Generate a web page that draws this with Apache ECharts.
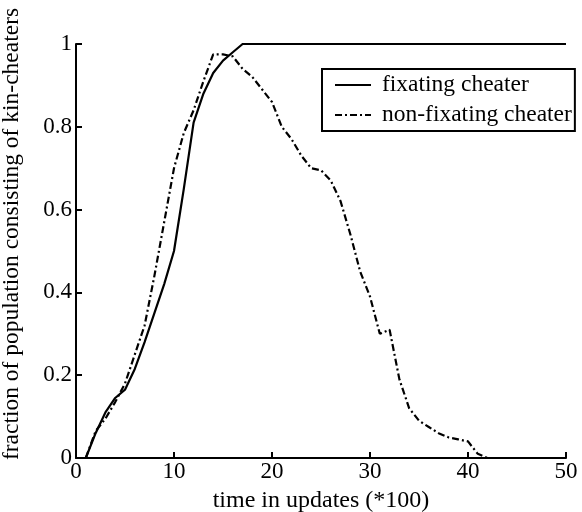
<!DOCTYPE html>
<html>
<head>
<meta charset="utf-8">
<script src="https://cdn.jsdelivr.net/npm/echarts@6/dist/echarts.min.js"></script>
<style>html,body{margin:0;padding:0;background:#fff}#c{width:582px;height:512px}</style>
</head>
<body>
<div id="c"></div>
<script>
const times = [1,2,3,4,5,6,7,8,9,10,11,12,13,14,15,16,17,18,19,20,21,22,23,24,25,26,27,28,29,30,31,32,33,34,35,36,37,38,39,40,41,42,43,44,45,46,47,48,49,50];
const fixating = [0,0.06,0.11,0.145,0.165,0.215,0.28,0.35,0.42,0.50,0.65,0.81,0.88,0.93,0.96,0.98,1,1,1,1,1,1,1,1,1,1,1,1,1,1,1,1,1,1,1,1,1,1,1,1,1,1,1,1,1,1,1,1,1,1];
const nonFixating = [0,0.065,0.095,0.135,0.18,0.25,0.32,0.44,0.57,0.70,0.785,0.84,0.91,0.975,0.975,0.97,0.94,0.92,0.89,0.86,0.80,0.77,0.73,0.70,0.695,0.67,0.62,0.54,0.45,0.39,0.30,0.31,0.19,0.12,0.09,0.075,0.06,0.05,0.045,0.04,0.01,0,0,0,0,0,0,0,0,0];
const seriesNames = ['fixating cheater','non-fixating cheater'];
const xTitle = 'time in updates (*100)';
const yTitle = 'fraction of population consisting of kin-cheaters';

const F = 'Liberation Serif, Times New Roman, serif';
const chart = echarts.init(document.getElementById('c'));
chart.setOption({
  animation: false,
  grid: {left: 76, right: 16, top: 44, bottom: 54, containLabel: false, outerBoundsMode: 'none'},
  legend: {
    orient: 'vertical', left: 322, top: 69,
    padding: [4, 3, 4, 12], itemGap: 6, itemWidth: 36, itemHeight: 16,
    borderColor: '#000', borderWidth: 2, borderRadius: 0,
    itemStyle: {opacity: 0},
    textStyle: {fontFamily: F, fontSize: 23.5, color: '#000', padding: [0, 0, 0, 6]},
    data: seriesNames
  },
  xAxis: {
    type: 'value', min: 0, max: 50, interval: 10,
    name: xTitle, nameLocation: 'middle', nameGap: 31,
    nameTextStyle: {fontFamily: F, fontSize: 24, color: '#000'},
    axisLine: {show: true, onZero: false, lineStyle: {color: '#000', width: 2}},
    axisTick: {show: true, inside: true, length: 6, lineStyle: {color: '#000', width: 2}},
    axisLabel: {fontFamily: F, fontSize: 23, color: '#000', margin: 2},
    splitLine: {show: false}
  },
  yAxis: {
    type: 'value', min: 0, max: 1, interval: 0.2,
    name: yTitle, nameLocation: 'middle', nameGap: 52, nameRotate: 90,
    nameTextStyle: {fontFamily: F, fontSize: 23.5, color: '#000', padding: [0, 0, 0, 34]},
    axisLine: {show: true, onZero: false, lineStyle: {color: '#000', width: 2}},
    axisTick: {show: true, inside: true, length: 6, lineStyle: {color: '#000', width: 2}},
    axisLabel: {fontFamily: F, fontSize: 23, color: '#000', margin: 4},
    splitLine: {show: false}
  },
  series: [
    {name: seriesNames[0], type: 'line', symbol: 'none', data: times.map((t, i) => [t, fixating[i]]),
     lineStyle: {color: '#000', width: 2.2}, itemStyle: {color: '#000'}},
    {name: seriesNames[1], type: 'line', symbol: 'none', data: times.map((t, i) => [t, nonFixating[i]]),
     lineStyle: {color: '#000', width: 2.2, type: [7, 3, 2, 3]}, itemStyle: {color: '#000'}}
  ]
});
</script>
</body>
</html>
